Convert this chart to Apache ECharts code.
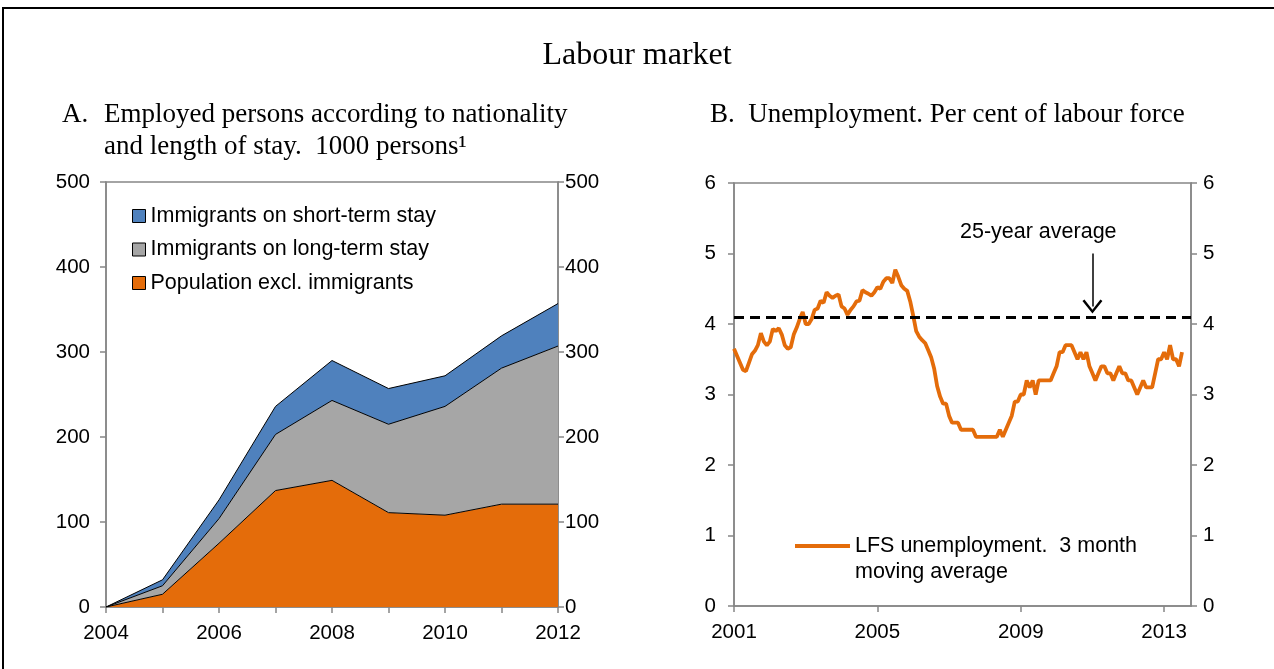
<!DOCTYPE html>
<html>
<head>
<meta charset="utf-8">
<script src="https://cdn.jsdelivr.net/npm/echarts@6/dist/echarts.min.js"></script>
<style>
  html, body { margin: 0; padding: 0; background: #fff; }
  #chart { width: 1274px; height: 669px; }
</style>
</head>
<body>
<div id="chart"></div>
<script>
// panel A: employed persons, 1000 persons
const years = ['2004', '2005', '2006', '2007', '2008', '2009', '2010', '2011', '2012'];
const population = [0, 15, 75, 137, 149, 111, 108, 121, 121];
const longTerm = [0, 10, 29, 66, 94, 104, 128, 160, 186];
const shortTerm = [0, 7, 22, 33, 47, 42, 36, 38, 50];

// panel B: LFS unemployment, 3 month moving average, monthly from Jan 2001
const unemployment = [
  3.65, 3.55, 3.45, 3.35, 3.33, 3.45, 3.57, 3.62, 3.70, 3.87,
  3.75, 3.70, 3.75, 3.93, 3.90, 3.94, 3.85, 3.70, 3.65, 3.67,
  3.85, 3.95, 4.07, 4.17, 4.00, 4.00, 4.07, 4.20, 4.22, 4.33,
  4.30, 4.45, 4.40, 4.37, 4.40, 4.42, 4.25, 4.22, 4.13, 4.20,
  4.25, 4.32, 4.33, 4.48, 4.45, 4.43, 4.40, 4.45, 4.52, 4.50,
  4.60, 4.65, 4.65, 4.58, 4.77, 4.67, 4.55, 4.50, 4.47, 4.32,
  4.12, 3.90, 3.82, 3.77, 3.73, 3.63, 3.53, 3.37, 3.12, 2.97,
  2.87, 2.87, 2.70, 2.60, 2.60, 2.60, 2.50, 2.50, 2.50, 2.50,
  2.50, 2.40, 2.40, 2.40, 2.40, 2.40, 2.40, 2.40, 2.40, 2.50,
  2.40, 2.50, 2.60, 2.70, 2.90, 2.90, 3.00, 3.00, 3.20, 3.10,
  3.20, 3.00, 3.20, 3.20, 3.20, 3.20, 3.20, 3.30, 3.40, 3.60,
  3.60, 3.70, 3.70, 3.70, 3.60, 3.50, 3.60, 3.50, 3.60, 3.40,
  3.30, 3.20, 3.30, 3.40, 3.40, 3.30, 3.30, 3.20, 3.30, 3.40,
  3.30, 3.30, 3.20, 3.20, 3.10, 3.00, 3.10, 3.20, 3.10, 3.10,
  3.10, 3.30, 3.50, 3.50, 3.60, 3.50, 3.70, 3.50, 3.50, 3.40,
  3.60
];
const avg25y = 4.1;
const arrowMonth = '2011-01';
const arrowFrom = 5.0;
const arrowTo = 4.25;

// month categories Jan 2001 .. Oct 2013
const months = [];
for (let y = 2001; y <= 2013; y++) {
  for (let m = 1; m <= 12; m++) {
    if (y === 2013 && m > 10) break;
    months.push(y + '-' + (m < 10 ? '0' + m : m));
  }
}
const every4y = (idx) => idx % 48 === 0;

const sans = 'Liberation Sans, Arial, sans-serif';
const serif = 'Liberation Serif, Times New Roman, serif';
const axisGrey = '#868686';

const chart = echarts.init(document.getElementById('chart'));

function yAxisOpt(grid, pos, max, interval, margin) {
  return {
    type: 'value', gridIndex: grid, position: pos,
    min: 0, max: max, interval: interval,
    axisLine: { show: true, lineStyle: { color: axisGrey, width: 1.5 } },
    axisTick: { show: true, length: 6, lineStyle: { color: axisGrey, width: 1.5 } },
    axisLabel: { color: '#000', fontFamily: sans, fontSize: 20.5, margin: margin },
    splitLine: { show: false }
  };
}

chart.setOption({
  animation: false,
  textStyle: { fontFamily: sans },
  grid: [
    { left: 106, right: 716, top: 182, bottom: 62, show: true, borderColor: axisGrey, borderWidth: 1.5 },
    { left: 734, right: 83, top: 183, bottom: 63, show: true, borderColor: axisGrey, borderWidth: 1.5 }
  ],
  legend: [
    {
      left: 127, top: 200, orient: 'vertical',
      itemWidth: 13, itemHeight: 13, itemGap: 11.5,
      textStyle: { fontFamily: sans, fontSize: 21.5, color: '#000', lineHeight: 22 },
      data: [
        { name: 'Immigrants on short-term stay', icon: 'rect', itemStyle: { color: '#4F81BD', borderColor: '#000', borderWidth: 1 } },
        { name: 'Immigrants on long-term stay', icon: 'rect', itemStyle: { color: '#A6A6A6', borderColor: '#000', borderWidth: 1 } },
        { name: 'Population excl. immigrants', icon: 'rect', itemStyle: { color: '#E46C0A', borderColor: '#000', borderWidth: 1 } }
      ]
    },
    {
      left: 790, top: 528,
      itemWidth: 55, itemHeight: 30,
      textStyle: { fontFamily: sans, fontSize: 21.5, color: '#000', lineHeight: 26 },
      data: [{
        name: 'LFS unemployment.  3 month\nmoving average',
        icon: 'path://M0,0 H55 V4 H0 Z M0,30 H0.01 V30.01 H0 Z'
      }]
    }
  ],
  xAxis: [
    {
      type: 'category', gridIndex: 0, data: years, boundaryGap: false,
      axisLine: { lineStyle: { color: axisGrey, width: 1.5 } },
      axisTick: { show: true, length: 6, interval: 0, lineStyle: { color: axisGrey, width: 1.5 } },
      axisLabel: { interval: 1, color: '#000', fontFamily: sans, fontSize: 20.5, margin: 16 }
    },
    {
      type: 'category', gridIndex: 1, data: months, boundaryGap: false,
      axisLine: { lineStyle: { color: axisGrey, width: 1.5 } },
      axisTick: { show: true, length: 6, interval: every4y, lineStyle: { color: axisGrey, width: 1.5 } },
      axisLabel: {
        interval: every4y, color: '#000', fontFamily: sans, fontSize: 20.5, margin: 16,
        formatter: (v) => v.slice(0, 4)
      }
    }
  ],
  yAxis: [
    yAxisOpt(0, 'left', 500, 100, 16),
    yAxisOpt(0, 'right', 500, 100, 7),
    yAxisOpt(1, 'left', 6, 1, 18),
    yAxisOpt(1, 'right', 6, 1, 12)
  ],
  series: [
    {
      name: 'Population excl. immigrants', type: 'line', stack: 'a',
      xAxisIndex: 0, yAxisIndex: 0, data: population, symbol: 'none',
      itemStyle: { color: '#E46C0A' },
      lineStyle: { color: '#000', width: 1 },
      areaStyle: { color: '#E46C0A', opacity: 1 }
    },
    {
      name: 'Immigrants on long-term stay', type: 'line', stack: 'a',
      xAxisIndex: 0, yAxisIndex: 0, data: longTerm, symbol: 'none',
      itemStyle: { color: '#A6A6A6' },
      lineStyle: { color: '#000', width: 1 },
      areaStyle: { color: '#A6A6A6', opacity: 1 }
    },
    {
      name: 'Immigrants on short-term stay', type: 'line', stack: 'a',
      xAxisIndex: 0, yAxisIndex: 0, data: shortTerm, symbol: 'none',
      itemStyle: { color: '#4F81BD' },
      lineStyle: { color: '#000', width: 1 },
      areaStyle: { color: '#4F81BD', opacity: 1 }
    },
    {
      name: 'LFS unemployment.  3 month\nmoving average', type: 'line',
      xAxisIndex: 1, yAxisIndex: 2, data: unemployment, symbol: 'none',
      itemStyle: { color: '#E46C0A' },
      lineStyle: { color: '#E46C0A', width: 3.8 },
      z: 3,
      markLine: {
        silent: true, symbol: ['none', 'none'], animation: false,
        label: { show: false },
        data: [
          { yAxis: avg25y, lineStyle: { color: '#000', type: [10, 6], width: 3 } },
          [
            { coord: [arrowMonth, arrowFrom], symbol: 'none' },
            {
              coord: [arrowMonth, arrowTo],
              symbol: 'path://M0,12 L10,0 L20,12 L18,13.5 L10,3.5 L2,13.5 Z',
              symbolSize: [20, 14],
              lineStyle: { color: '#000', type: 'solid', width: 1.5 },
              itemStyle: { color: '#000' }
            }
          ]
        ]
      }
    }
  ],
  graphic: [
    { type: 'rect', shape: { x: 3, y: 8, width: 1300, height: 700 }, style: { fill: 'none', stroke: '#000', lineWidth: 2 } },
    { type: 'text', left: 'center', top: 40, style: { text: 'Labour market', font: '32px ' + serif, fill: '#000' } },
    { type: 'text', left: 62, top: 99, style: { text: 'A.', font: '27px ' + serif, lineHeight: 32, fill: '#000' } },
    { type: 'text', left: 104, top: 99, style: { text: 'Employed persons according to nationality\nand length of stay.  1000 persons\u00B9', font: '27px ' + serif, lineHeight: 32, fill: '#000' } },
    { type: 'text', left: 710, top: 99, style: { text: 'B.  Unemployment. Per cent of labour force', font: '27px ' + serif, lineHeight: 32, fill: '#000' } },
    { type: 'text', left: 960, top: 221, style: { text: '25-year average', font: '21.5px ' + sans, fill: '#000' } }
  ]
});
</script>
</body>
</html>
